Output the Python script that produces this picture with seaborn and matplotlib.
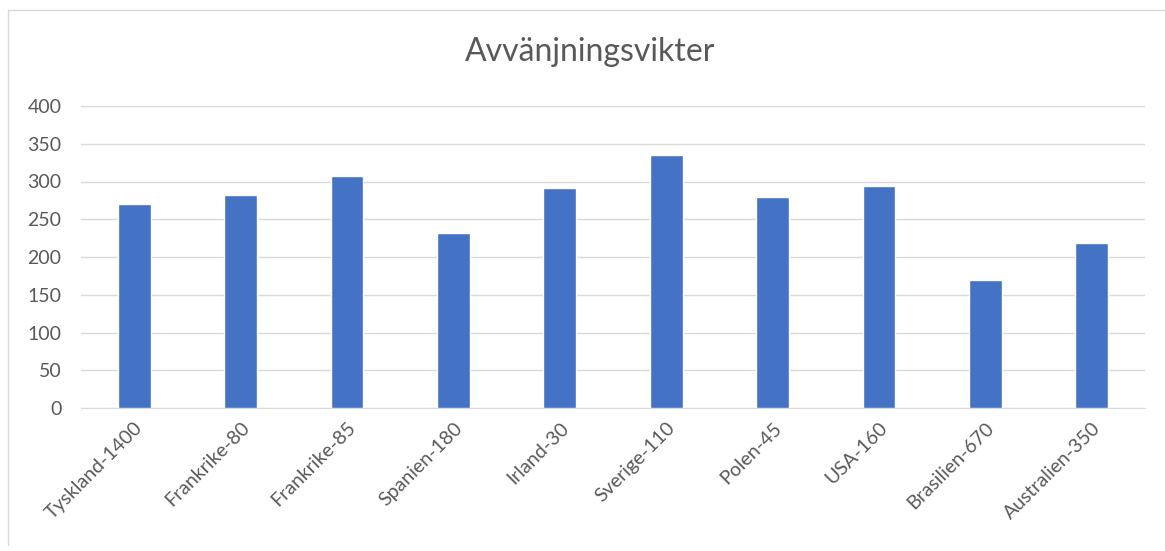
import pandas as pd
import seaborn as sns
import matplotlib.pyplot as plt
from matplotlib.lines import Line2D

# Data
countries = ['Tyskland-1400', 'Frankrike-80', 'Frankrike-85', 'Spanien-180', 'Irland-30',
             'Sverige-110', 'Polen-45', 'USA-160', 'Brasilien-670', 'Australien-350']
weights = [270, 282, 307, 232, 292, 335, 279, 294, 169, 219]

df = pd.DataFrame({'Land': countries, 'Vikt': weights})

sns.set_style("white")
plt.rcParams['font.family'] = ['Lato', 'DejaVu Sans']

fig = plt.figure(figsize=(11.65, 5.51), dpi=100)
ax = fig.add_axes([81 / 1165, 1 - 408 / 551, 1064 / 1165, 302 / 551])

sns.barplot(x='Land', y='Vikt', data=df, color='#4472C4', width=0.31,
            saturation=1, ax=ax, zorder=3)

ax.set_ylim(0, 400)
ax.set_yticks(range(0, 401, 50))
ax.set_xlim(-0.5, len(countries) - 0.5)
ax.grid(axis='y', color='#d9d9d9', linewidth=1, zorder=0)
for s in ['top', 'right', 'left']:
    ax.spines[s].set_visible(False)
ax.spines['bottom'].set_color('#d9d9d9')
ax.set_xlabel('')
ax.set_ylabel('')
ax.tick_params(axis='both', length=0, colors='#595959', labelsize=14)
ax.tick_params(axis='y', pad=14)
plt.setp(ax.get_xticklabels(), rotation=45, ha='right', rotation_mode='anchor')
ax.tick_params(axis='x', pad=8)

fig.text(590 / 1165, 1 - 52 / 551, 'Avvänjningsvikter', ha='center', va='center',
         fontsize=23, color='#595959')

# chart frame (top and left edges visible in the original)
fig.add_artist(Line2D([8 / 1165, 1], [1 - 10 / 551, 1 - 10 / 551],
                      transform=fig.transFigure, color='#d9d9d9', linewidth=1))
fig.add_artist(Line2D([8 / 1165, 8 / 1165], [1 - 10 / 551, 0.01],
                      transform=fig.transFigure, color='#d9d9d9', linewidth=1))

fig.savefig('out.png', dpi=100)
